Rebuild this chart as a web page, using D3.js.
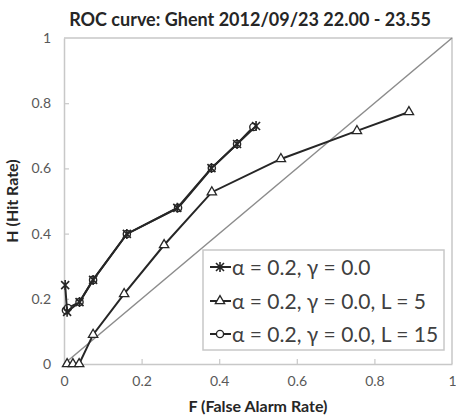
<!DOCTYPE html>
<html>
<head>
<meta charset="utf-8">
<script src="https://cdn.jsdelivr.net/npm/d3@7"></script>
<style>
  html, body { margin: 0; padding: 0; background: #fff; }
  svg { display: block; font-family: Lato, "Open Sans", sans-serif; }
</style>
</head>
<body>
<div id="chart"></div>
<script>
// ROC points (F = false alarm rate, H = hit rate) for three settings
const seriesNames = ["α = 0.2, γ = 0.0", "α = 0.2, γ = 0.0, L = 5", "α = 0.2, γ = 0.0, L = 15"];
const baseF = [0.003, 0.008, 0.04, 0.075, 0.162, 0.292, 0.38, 0.446, 0.495];
const baseH = [0.242, 0.160, 0.190, 0.258, 0.399, 0.479, 0.601, 0.675, 0.730];
const l5F = [0.008, 0.023, 0.039, 0.075, 0.155, 0.258, 0.381, 0.559, 0.755, 0.889];
const l5H = [0.0, 0.0, 0.0, 0.09, 0.215, 0.365, 0.527, 0.629, 0.715, 0.773];
const l15F = [0.005, 0.01, 0.04, 0.075, 0.162, 0.294, 0.381, 0.446, 0.488];
const l15H = [0.165, 0.172, 0.19, 0.258, 0.399, 0.479, 0.601, 0.675, 0.727];
const tickValues = [0, 0.2, 0.4, 0.6, 0.8, 1];
const tickLabels = ["0", "0.2", "0.4", "0.6", "0.8", "1"];

const W = 456, H = 416;
const plotL = 64, plotR = 452, plotT = 38, plotB = 364;

const svg = d3.select("#chart").append("svg").attr("width", W).attr("height", H);

const x = d3.scaleLinear().domain([0, 1]).range([plotL, plotR]);
const y = d3.scaleLinear().domain([0, 1]).range([plotB, plotT]);

// plot area frame (top and right edges)
svg.append("path")
  .attr("d", `M${plotL},${plotT}H${plotR}V${plotB}`)
  .attr("fill", "none").attr("stroke", "#c8c8c8").attr("stroke-width", 1.5);

// axes with inward ticks
const fmt = d => tickLabels[tickValues.indexOf(d)];
const xAxis = svg.append("g").attr("transform", `translate(0,${plotB})`)
  .call(d3.axisBottom(x).tickValues(tickValues).tickFormat(fmt).tickSizeInner(-5).tickSizeOuter(0).tickPadding(12));
const yAxis = svg.append("g").attr("transform", `translate(${plotL},0)`)
  .call(d3.axisLeft(y).tickValues(tickValues).tickFormat(fmt).tickSizeInner(-5).tickSizeOuter(0).tickPadding(13));
[xAxis, yAxis].forEach(g => {
  g.select(".domain").attr("stroke", "#c8c8c8").attr("stroke-width", 1.5);
  g.selectAll(".tick line").attr("stroke", "#c8c8c8").attr("stroke-width", 1.2);
  g.selectAll(".tick text").attr("fill", "#595959").attr("font-size", 14).attr("font-family", "Lato, sans-serif");
});
xAxis.selectAll(".tick").filter(d => d === 0 || d === 1).select("line").remove();
yAxis.selectAll(".tick").filter(d => d === 0 || d === 1).select("line").remove();

// no-skill diagonal
svg.append("line")
  .attr("x1", x(0)).attr("y1", y(0)).attr("x2", x(1)).attr("y2", y(1))
  .attr("stroke", "#8c8c8c").attr("stroke-width", 1.5);

const line = d3.line().x(d => x(d[0])).y(d => y(d[1]));
const stroke = "#262626";

function drawMarker(g, kind, cx, cy) {
  if (kind === "x") {
    const s = 4;
    g.append("path").attr("d", `M${cx - s},${cy - s}L${cx + s},${cy + s}M${cx - s},${cy + s}L${cx + s},${cy - s}M${cx},${cy - s - 1}V${cy + s + 1}`)
      .attr("stroke", stroke).attr("stroke-width", 1.6).attr("fill", "none");
  } else if (kind === "tri") {
    g.append("path").attr("d", d3.symbol(d3.symbolTriangle, 38)()).attr("transform", `translate(${cx},${cy})`)
      .attr("fill", "#fff").attr("stroke", stroke).attr("stroke-width", 1.3);
  } else {
    g.append("circle").attr("cx", cx).attr("cy", cy).attr("r", 3.6)
      .attr("fill", "#fff").attr("stroke", stroke).attr("stroke-width", 1.4);
  }
}

const series = [
  { name: seriesNames[1], F: l5F, H: l5H, marker: "tri" },
  { name: seriesNames[2], F: l15F, H: l15H, marker: "circle" },
  { name: seriesNames[0], F: baseF, H: baseH, marker: "x" }
];

series.forEach(s => {
  const pts = s.F.map((f, i) => [f, s.H[i]]);
  const g = svg.append("g");
  g.append("path").attr("d", line(pts)).attr("fill", "none")
    .attr("stroke", stroke).attr("stroke-width", 2);
  pts.forEach(p => drawMarker(g, s.marker, x(p[0]), y(p[1])));
});

// legend
const lg = svg.append("g");
const lx = 203, ly = 250, lw = 241, lh = 100;
lg.append("rect").attr("x", lx).attr("y", ly).attr("width", lw).attr("height", lh)
  .attr("fill", "#fff").attr("stroke", "#c8c8c8").attr("stroke-width", 1.5);
const legendItems = [
  { name: seriesNames[0], marker: "x" },
  { name: seriesNames[1], marker: "tri" },
  { name: seriesNames[2], marker: "circle" }
];
const rowY = [267, 301, 334];
legendItems.forEach((it, i) => {
  const cy = rowY[i];
  lg.append("line").attr("x1", lx + 7).attr("x2", lx + 28).attr("y1", cy).attr("y2", cy)
    .attr("stroke", stroke).attr("stroke-width", 2);
  drawMarker(lg, it.marker, lx + 17, cy);
  lg.append("text").attr("x", lx + 29).attr("y", cy).attr("dy", "0.36em")
    .attr("font-size", 21).attr("fill", "#404040").text(it.name);
});

// titles
svg.append("text").attr("x", 250).attr("y", 26).attr("text-anchor", "middle")
  .attr("font-size", 18).attr("font-weight", "bold").attr("fill", "#262626")
  .text("ROC curve: Ghent 2012/09/23 22.00 - 23.55");
svg.append("text").attr("x", 258).attr("y", 412).attr("text-anchor", "middle")
  .attr("font-size", 16).attr("font-weight", "bold").attr("fill", "#262626")
  .text("F (False Alarm Rate)");
svg.append("text").attr("transform", `translate(18,${(plotT + plotB) / 2}) rotate(-90)`)
  .attr("text-anchor", "middle")
  .attr("font-size", 16).attr("font-weight", "bold").attr("fill", "#262626")
  .text("H (Hit Rate)");
</script>
</body>
</html>
